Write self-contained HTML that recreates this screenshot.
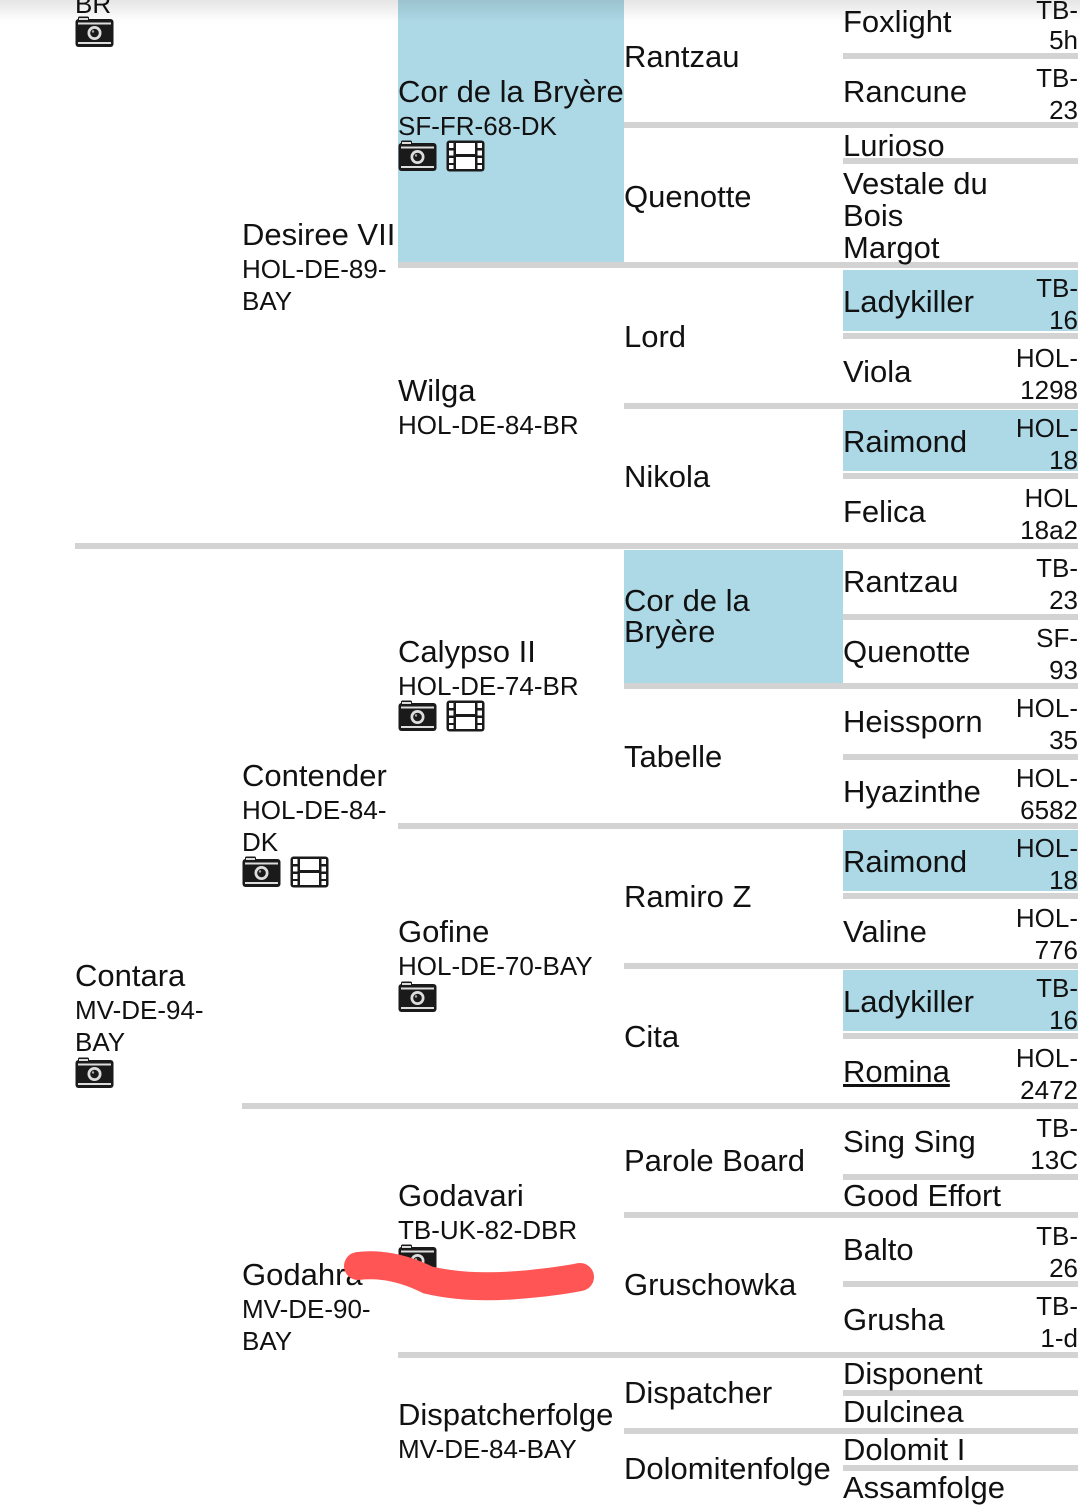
<!DOCTYPE html>
<html><head><meta charset="utf-8">
<style>
html,body{margin:0;padding:0;background:#fff;}
body{width:1080px;height:1504px;position:relative;overflow:hidden;font-family:"Liberation Sans",Arial,sans-serif;color:#111;}
.n,.i,.r{position:absolute;white-space:nowrap;line-height:32px;height:32px;}
.n{font-size:31px;}
.i{font-size:26px;}
.r{font-size:26px;right:2px;text-align:right;}
.h{position:absolute;height:6px;background:#d3d3d3;}
.b{position:absolute;background:#add8e6;}
svg.ic{position:absolute;width:39px;height:32px;}
</style></head><body>
<svg width="0" height="0" style="position:absolute">
<defs>
<symbol id="cam" viewBox="0 0 39 32"><rect x="0.5" y="3" width="38" height="28" rx="3" fill="#1a1a1a"/><rect x="3" y="0.5" width="11" height="5" rx="1.5" fill="#1a1a1a"/><rect x="4" y="2" width="9" height="2" fill="#ddd"/><rect x="3" y="6.5" width="33" height="2" fill="#ddd"/><rect x="3" y="26" width="33" height="2" fill="#ddd"/><circle cx="19.5" cy="17" r="7" fill="#ddd"/><circle cx="19.5" cy="17" r="4.3" fill="#1a1a1a"/><circle cx="18" cy="15.5" r="1.2" fill="#aaa"/></symbol>
<symbol id="film" viewBox="0 0 39 32"><rect x="0.5" y="0.5" width="38" height="31" rx="3" fill="#1a1a1a"/><rect x="10" y="3" width="19" height="11" fill="#fff"/><rect x="10" y="17" width="19" height="12" fill="#fff"/><rect x="3" y="3" width="4.5" height="5" fill="#fff"/><rect x="3" y="10.5" width="4.5" height="5" fill="#fff"/><rect x="3" y="18" width="4.5" height="5" fill="#fff"/><rect x="3" y="25" width="4.5" height="4" fill="#fff"/><rect x="31.5" y="3" width="4.5" height="5" fill="#fff"/><rect x="31.5" y="10.5" width="4.5" height="5" fill="#fff"/><rect x="31.5" y="18" width="4.5" height="5" fill="#fff"/><rect x="31.5" y="25" width="4.5" height="4" fill="#fff"/></symbol>
</defs></svg>

<div class="b" style="left:398px;top:0;width:226px;height:262px"></div>
<div class="b" style="left:624px;top:550px;width:219px;height:133px"></div>
<div class="b" style="left:843px;top:270px;width:235px;height:61px"></div>
<div class="b" style="left:843px;top:410px;width:235px;height:61px"></div>
<div class="b" style="left:843px;top:830px;width:235px;height:61px"></div>
<div class="b" style="left:843px;top:970px;width:235px;height:61px"></div>

<div class="h" style="left:75px;top:543px;width:1003px"></div>
<div class="h" style="left:242px;top:1103px;width:836px"></div>
<div class="h" style="left:398px;top:262px;width:680px"></div>
<div class="h" style="left:398px;top:823px;width:680px"></div>
<div class="h" style="left:398px;top:1352px;width:680px"></div>
<div class="h" style="left:624px;top:122px;width:454px"></div>
<div class="h" style="left:624px;top:403px;width:454px"></div>
<div class="h" style="left:624px;top:683px;width:454px"></div>
<div class="h" style="left:624px;top:963px;width:454px"></div>
<div class="h" style="left:624px;top:1212px;width:454px"></div>
<div class="h" style="left:624px;top:1428px;width:454px"></div>
<div class="h" style="left:843px;top:53px;width:235px"></div>
<div class="h" style="left:843px;top:158px;width:235px"></div>
<div class="h" style="left:843px;top:333px;width:235px"></div>
<div class="h" style="left:843px;top:473px;width:235px"></div>
<div class="h" style="left:843px;top:614px;width:235px"></div>
<div class="h" style="left:843px;top:754px;width:235px"></div>
<div class="h" style="left:843px;top:893px;width:235px"></div>
<div class="h" style="left:843px;top:1033px;width:235px"></div>
<div class="h" style="left:843px;top:1174px;width:235px"></div>
<div class="h" style="left:843px;top:1281px;width:235px"></div>
<div class="h" style="left:843px;top:1390px;width:235px"></div>
<div class="h" style="left:843px;top:1465px;width:235px"></div>

<div class="i" style="left:75px;top:-12px">BR</div>
<svg class="ic" style="left:75px;top:16px"><use href="#cam"/></svg>
<div class="n" style="left:75px;top:960px">Contara</div>
<div class="i" style="left:75px;top:994px">MV-DE-94-</div>
<div class="i" style="left:75px;top:1026px">BAY</div>
<svg class="ic" style="left:75px;top:1057px"><use href="#cam"/></svg>

<div class="n" style="left:242px;top:219px">Desiree VII</div>
<div class="i" style="left:242px;top:253px">HOL-DE-89-</div>
<div class="i" style="left:242px;top:285px">BAY</div>
<div class="n" style="left:242px;top:760px">Contender</div>
<div class="i" style="left:242px;top:794px">HOL-DE-84-</div>
<div class="i" style="left:242px;top:826px">DK</div>
<svg class="ic" style="left:242px;top:856px"><use href="#cam"/></svg>
<svg class="ic" style="left:290px;top:856px"><use href="#film"/></svg>
<div class="n" style="left:242px;top:1259px">Godahra</div>
<div class="i" style="left:242px;top:1293px">MV-DE-90-</div>
<div class="i" style="left:242px;top:1325px">BAY</div>

<div class="n" style="left:398px;top:76px">Cor de la Bryère</div>
<div class="i" style="left:398px;top:110px">SF-FR-68-DK</div>
<svg class="ic" style="left:398px;top:140px"><use href="#cam"/></svg>
<svg class="ic" style="left:446px;top:140px"><use href="#film"/></svg>
<div class="n" style="left:398px;top:375px">Wilga</div>
<div class="i" style="left:398px;top:409px">HOL-DE-84-BR</div>
<div class="n" style="left:398px;top:636px">Calypso II</div>
<div class="i" style="left:398px;top:670px">HOL-DE-74-BR</div>
<svg class="ic" style="left:398px;top:700px"><use href="#cam"/></svg>
<svg class="ic" style="left:446px;top:700px"><use href="#film"/></svg>
<div class="n" style="left:398px;top:916px">Gofine</div>
<div class="i" style="left:398px;top:950px">HOL-DE-70-BAY</div>
<svg class="ic" style="left:398px;top:981px"><use href="#cam"/></svg>
<div class="n" style="left:398px;top:1180px">Godavari</div>
<div class="i" style="left:398px;top:1214px">TB-UK-82-DBR</div>
<svg class="ic" style="left:398px;top:1244px"><use href="#cam"/></svg>
<div class="n" style="left:398px;top:1399px">Dispatcherfolge</div>
<div class="i" style="left:398px;top:1433px">MV-DE-84-BAY</div>

<div class="n" style="left:624px;top:41px">Rantzau</div>
<div class="n" style="left:624px;top:181px">Quenotte</div>
<div class="n" style="left:624px;top:321px">Lord</div>
<div class="n" style="left:624px;top:461px">Nikola</div>
<div class="n" style="left:624px;top:585px">Cor de la</div>
<div class="n" style="left:624px;top:616px">Bryère</div>
<div class="n" style="left:624px;top:741px">Tabelle</div>
<div class="n" style="left:624px;top:881px">Ramiro Z</div>
<div class="n" style="left:624px;top:1021px">Cita</div>
<div class="n" style="left:624px;top:1145px">Parole Board</div>
<div class="n" style="left:624px;top:1269px">Gruschowka</div>
<div class="n" style="left:624px;top:1377px">Dispatcher</div>
<div class="n" style="left:624px;top:1453px">Dolomitenfolge</div>

<div class="n" style="left:843px;top:6px">Foxlight</div>
<div class="r" style="top:-6px">TB-</div><div class="r" style="top:24px">5h</div>
<div class="n" style="left:843px;top:76px">Rancune</div>
<div class="r" style="top:62px">TB-</div><div class="r" style="top:94px">23</div>
<div class="n" style="left:843px;top:130px">Lurioso</div>
<div class="n" style="left:843px;top:168px">Vestale du</div>
<div class="n" style="left:843px;top:200px">Bois</div>
<div class="n" style="left:843px;top:232px">Margot</div>
<div class="n" style="left:843px;top:286px">Ladykiller</div>
<div class="r" style="top:272px">TB-</div><div class="r" style="top:304px">16</div>
<div class="n" style="left:843px;top:356px">Viola</div>
<div class="r" style="top:342px">HOL-</div><div class="r" style="top:374px">1298</div>
<div class="n" style="left:843px;top:426px">Raimond</div>
<div class="r" style="top:412px">HOL-</div><div class="r" style="top:444px">18</div>
<div class="n" style="left:843px;top:496px">Felica</div>
<div class="r" style="top:482px">HOL</div><div class="r" style="top:514px">18a2</div>
<div class="n" style="left:843px;top:566px">Rantzau</div>
<div class="r" style="top:552px">TB-</div><div class="r" style="top:584px">23</div>
<div class="n" style="left:843px;top:636px">Quenotte</div>
<div class="r" style="top:622px">SF-</div><div class="r" style="top:654px">93</div>
<div class="n" style="left:843px;top:706px">Heissporn</div>
<div class="r" style="top:692px">HOL-</div><div class="r" style="top:724px">35</div>
<div class="n" style="left:843px;top:776px">Hyazinthe</div>
<div class="r" style="top:762px">HOL-</div><div class="r" style="top:794px">6582</div>
<div class="n" style="left:843px;top:846px">Raimond</div>
<div class="r" style="top:832px">HOL-</div><div class="r" style="top:864px">18</div>
<div class="n" style="left:843px;top:916px">Valine</div>
<div class="r" style="top:902px">HOL-</div><div class="r" style="top:934px">776</div>
<div class="n" style="left:843px;top:986px">Ladykiller</div>
<div class="r" style="top:972px">TB-</div><div class="r" style="top:1004px">16</div>
<div class="n" style="left:843px;top:1056px;text-decoration:underline">Romina</div>
<div class="r" style="top:1042px">HOL-</div><div class="r" style="top:1074px">2472</div>
<div class="n" style="left:843px;top:1126px">Sing Sing</div>
<div class="r" style="top:1112px">TB-</div><div class="r" style="top:1144px">13C</div>
<div class="n" style="left:843px;top:1180px">Good Effort</div>
<div class="n" style="left:843px;top:1234px">Balto</div>
<div class="r" style="top:1220px">TB-</div><div class="r" style="top:1252px">26</div>
<div class="n" style="left:843px;top:1304px">Grusha</div>
<div class="r" style="top:1290px">TB-</div><div class="r" style="top:1322px">1-d</div>
<div class="n" style="left:843px;top:1358px">Disponent</div>
<div class="n" style="left:843px;top:1396px">Dulcinea</div>
<div class="n" style="left:843px;top:1434px">Dolomit I</div>
<div class="n" style="left:843px;top:1472px">Assamfolge</div>

<div style="position:absolute;left:0;top:0;width:1080px;height:22px;background:linear-gradient(rgba(0,0,0,0.10),rgba(0,0,0,0));"></div>

<svg style="position:absolute;left:0;top:0" width="1080" height="1504">
<path d="M358,1266 Q392,1262 428,1280 Q470,1290 530,1284 Q560,1281 580,1277" fill="none" stroke="#ff5555" stroke-width="28" stroke-linecap="round"/>
</svg>
</body></html>
